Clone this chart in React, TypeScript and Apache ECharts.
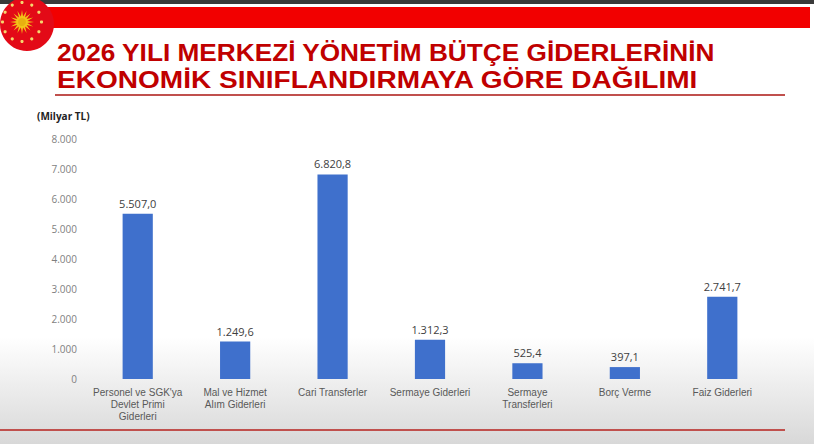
import React, { useEffect, useRef } from "react";
import * as echarts from "echarts";

const categories = [
  "Personel ve SGK'ya\nDevlet Primi\nGiderleri",
  "Mal ve Hizmet\nAlım Giderleri",
  "Cari Transferler",
  "Sermaye Giderleri",
  "Sermaye\nTransferleri",
  "Borç Verme",
  "Faiz Giderleri",
];
const values = [5507.0, 1249.6, 6820.8, 1312.3, 525.4, 397.1, 2741.7];
const titleLines = [
  "2026 YILI MERKEZİ YÖNETİM BÜTÇE GİDERLERİNİN",
  "EKONOMİK SINIFLANDIRMAYA GÖRE DAĞILIMI",
];
const unitLabel = "(Milyar TL)";
const yMin = 0;
const yMax = 8000;
const yInterval = 1000;

const fmtThousands = (v: number) =>
  String(Math.round(v)).replace(/\B(?=(\d{3})+(?!\d))/g, ".");
const fmtValue = (v: number) => {
  const [i, d] = v.toFixed(1).split(".");
  return i.replace(/\B(?=(\d{3})+(?!\d))/g, ".") + "," + d;
};

function buildLogo(): any[] {
  const cx = 27, cy = 24;
  const els: any[] = [
    { type: "circle", shape: { cx, cy, r: 27 }, style: { fill: "#e30a17" }, z: 5 },
  ];
  const sx = 22, sy = 22;
  const pts: number[][] = [];
  const n = 16;
  for (let k = 0; k < n * 2; k++) {
    const a = (Math.PI * k) / n;
    const r = k % 2 === 0 ? 12 : 5.5;
    pts.push([sx + r * Math.cos(a), sy + r * Math.sin(a)]);
  }
  els.push({ type: "polygon", shape: { points: pts }, style: { fill: "#f2c418" }, z: 6 });
  els.push({ type: "circle", shape: { cx: sx, cy: sy, r: 4 }, style: { fill: "#e8b010" }, z: 7 });
  for (let k = 0; k < 12; k++) {
    const a = (Math.PI * 2 * k) / 12;
    els.push({
      type: "circle",
      shape: { cx: sx + 19.5 * Math.cos(a), cy: sy + 19.5 * Math.sin(a), r: 1.6 },
      style: { fill: "#f5d76e" },
      z: 6,
    });
  }
  return els;
}

export default function App() {
  const ref = useRef<HTMLDivElement>(null);
  useEffect(() => {
    if (!ref.current) return;
    const chart = echarts.init(ref.current, undefined, { renderer: "svg" });
    chart.setOption({
      animation: false,
      backgroundColor: "#ffffff",
      graphic: [
        {
          type: "rect",
          shape: { x: 0, y: 0, width: 814, height: 444 },
          style: {
            fill: new echarts.graphic.LinearGradient(0, 0, 0, 1, [
              { offset: 0, color: "#ffffff" },
              { offset: 0.76, color: "#ffffff" },
              { offset: 1, color: "#d8d8d8" },
            ]),
          },
          z: -10,
          silent: true,
        },
        { type: "rect", shape: { x: 0, y: 0, width: 814, height: 4 }, style: { fill: "#3a3a3a" }, z: 1 },
        { type: "rect", shape: { x: 30, y: 7, width: 780, height: 21 }, style: { fill: "#f20000" }, z: 1 },
        ...buildLogo(),
        {
          type: "text",
          x: 57,
          y: 41,
          scaleX: 1.14,
          style: {
            text: titleLines[0],
            fill: "#c00000",
            font: "bold 23px 'Liberation Sans', Arial, sans-serif",
            lineHeight: 24,
            verticalAlign: "top",
            align: "left",
          },
          z: 10,
        },
        {
          type: "text",
          x: 57,
          y: 68,
          scaleX: 1.22,
          style: {
            text: titleLines[1],
            fill: "#c00000",
            font: "bold 23px 'Liberation Sans', Arial, sans-serif",
            lineHeight: 24,
            verticalAlign: "top",
            align: "left",
          },
          z: 10,
        },
        { type: "line", shape: { x1: 55, y1: 95, x2: 785, y2: 95 }, style: { stroke: "#c0504d", lineWidth: 2 }, z: 5 },
        { type: "line", shape: { x1: 0, y1: 430, x2: 785, y2: 430 }, style: { stroke: "#c0504d", lineWidth: 2 }, z: 5 },
        {
          type: "text",
          left: 37,
          top: 111,
          style: {
            text: unitLabel,
            fill: "#222222",
            font: "bold 10px 'Open Sans', sans-serif",
          },
          z: 10,
        },
      ],
      grid: { left: 89, right: 43, top: 139, bottom: 65, containLabel: false },
      xAxis: {
        type: "category",
        data: categories,
        axisLine: { show: false },
        axisTick: { show: false },
        axisLabel: {
          interval: 0,
          color: "#595959",
          fontSize: 10,
          fontFamily: "'Liberation Sans', Arial, sans-serif",
          lineHeight: 12,
          margin: 7,
        },
      },
      yAxis: {
        type: "value",
        min: yMin,
        max: yMax,
        interval: yInterval,
        splitLine: { show: false },
        axisLine: { show: false },
        axisTick: { show: false },
        axisLabel: {
          color: "#7f7f7f",
          fontSize: 10,
          fontFamily: "'Open Sans', sans-serif",
          margin: 12,
          formatter: (v: number) => fmtThousands(v),
        },
      },
      series: [
        {
          type: "bar",
          data: values,
          barWidth: "31%",
          itemStyle: { color: "#3f70cc" },
          label: {
            show: true,
            position: "top",
            distance: 5,
            color: "#404040",
            fontSize: 11,
            fontFamily: "'Open Sans', sans-serif",
            formatter: (p: any) => fmtValue(p.value),
          },
        },
      ],
    });
    return () => chart.dispose();
  }, []);
  return (
    <div
      ref={ref}
      style={{ position: "fixed", left: 0, top: 0, width: 814, height: 444 }}
    />
  );
}
